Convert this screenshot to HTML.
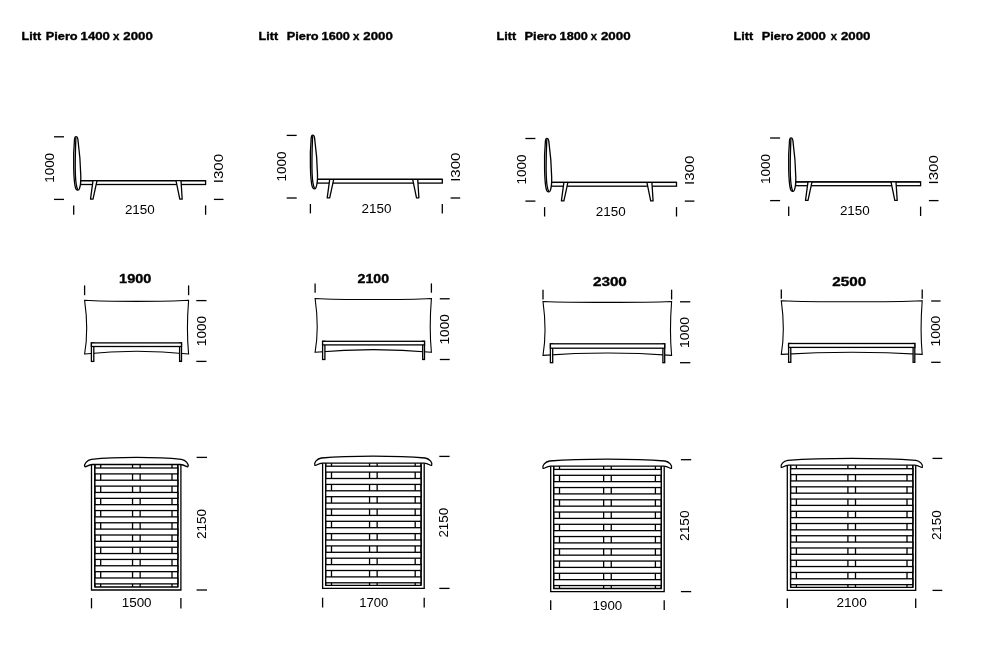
<!DOCTYPE html>
<html lang="en">
<head>
<meta charset="utf-8">
<title>Litt Piero</title>
<style>
html,body{margin:0;padding:0;background:#fff;}
body{width:997px;height:659px;overflow:hidden;}
svg{display:block;will-change:transform;}
svg *{stroke:#000;}
text{stroke:none;fill:#000;font-family:"Liberation Sans",sans-serif;}
text.b{font-weight:700;stroke:#000;stroke-width:0.35px;}
text.d{font-weight:400;}
</style>
</head>
<body>
<svg width="997" height="659" viewBox="0 0 997 659" fill="none" stroke-linecap="butt">
<rect x="0" y="0" width="997" height="659" fill="#fff" stroke="none" style="stroke:none"/>
<text class="b" y="39.9" font-size="10.8" xml:space="preserve"><tspan x="21.6" textLength="19.5" lengthAdjust="spacingAndGlyphs">Litt</tspan> <tspan x="45.7" textLength="32" lengthAdjust="spacingAndGlyphs">Piero</tspan> <tspan x="80.6" textLength="29.2" lengthAdjust="spacingAndGlyphs">1400</tspan> <tspan x="112.9" textLength="6.4" lengthAdjust="spacingAndGlyphs">x</tspan> <tspan x="123.3" textLength="29.5" lengthAdjust="spacingAndGlyphs">2000</tspan></text>
<text class="b" y="39.9" font-size="10.8" xml:space="preserve"><tspan x="258.6" textLength="19.5" lengthAdjust="spacingAndGlyphs">Litt</tspan>  <tspan x="286.7" textLength="32" lengthAdjust="spacingAndGlyphs">Piero</tspan> <tspan x="321.6" textLength="28.2" lengthAdjust="spacingAndGlyphs">1600</tspan> <tspan x="352.9" textLength="6.4" lengthAdjust="spacingAndGlyphs">x</tspan> <tspan x="363.3" textLength="29.5" lengthAdjust="spacingAndGlyphs">2000</tspan></text>
<text class="b" y="39.9" font-size="10.8" xml:space="preserve"><tspan x="496.6" textLength="19.5" lengthAdjust="spacingAndGlyphs">Litt</tspan>  <tspan x="524.5" textLength="32.2" lengthAdjust="spacingAndGlyphs">Piero</tspan> <tspan x="559.6" textLength="28.2" lengthAdjust="spacingAndGlyphs">1800</tspan> <tspan x="590.7" textLength="6.2" lengthAdjust="spacingAndGlyphs">x</tspan> <tspan x="600.9" textLength="29.7" lengthAdjust="spacingAndGlyphs">2000</tspan></text>
<text class="b" y="39.9" font-size="10.8" xml:space="preserve"><tspan x="733.6" textLength="19.5" lengthAdjust="spacingAndGlyphs">Litt</tspan>  <tspan x="761.7" textLength="32" lengthAdjust="spacingAndGlyphs">Piero</tspan> <tspan x="796.6" textLength="29.3" lengthAdjust="spacingAndGlyphs">2000</tspan> <tspan x="830.7" textLength="6.2" lengthAdjust="spacingAndGlyphs">x</tspan> <tspan x="840.9" textLength="29.5" lengthAdjust="spacingAndGlyphs">2000</tspan></text>
<g transform="translate(0 0)">
<line x1="54" y1="136.8" x2="64" y2="136.8" stroke-width="1.3"/>
<line x1="54" y1="199.4" x2="64" y2="199.4" stroke-width="1.3"/>
<line x1="73.7" y1="205.4" x2="73.7" y2="214.8" stroke-width="1.3"/>
<line x1="205.6" y1="205.4" x2="205.6" y2="214.8" stroke-width="1.3"/>
<line x1="213.9" y1="199.4" x2="223.5" y2="199.4" stroke-width="1.3"/>
<rect x="80.5" y="180.7" width="125.1" height="3.8" fill="#fff" stroke-width="1.3"/>
<path d="M93,180.7 L90.5,199.2 L93,199.2 L97,180.7" fill="#fff" stroke-width="1.3" stroke-linejoin="round"/>
<path d="M176,180.7 L179.8,199.2 L182.2,199.2 L181,180.7" fill="#fff" stroke-width="1.3" stroke-linejoin="round"/>
<line x1="80.5" y1="180.7" x2="205.6" y2="180.7" stroke-width="1.3"/>
<path d="M76,136.6 C75,136.6 74.7,137.6 74.5,139.5 C73.8,147 73.5,160 73.7,168 C73.9,177 74.4,184.5 75.6,188.3 C76.3,190.5 78.3,190.8 79.3,189 C80.3,186.5 80.9,182 80.8,176 C80.6,165 79.3,150 77.9,139.5 C77.6,137.5 77.1,136.6 76,136.6 Z" fill="#fff" stroke-width="1.3"/>
<path d="M75.9,137.5 C75.4,150 75.0,165 75.4,175 C75.7,182 76.3,187 77.8,189.8" fill="none" stroke-width="1.3"/>
<text class="d" transform="translate(53.6 182.8) rotate(-90)" x="0" y="0" font-size="13.4" textLength="29.9" lengthAdjust="spacingAndGlyphs">1000</text>
<text class="d" x="124.9" y="214" font-size="13.4" textLength="29.9" lengthAdjust="spacingAndGlyphs">2150</text>
<text class="d" transform="translate(223 183.2) rotate(-90)" x="0" y="0" font-size="13.4" textLength="29.2" lengthAdjust="spacingAndGlyphs">I300</text>
</g>
<g transform="translate(236.7 -1.4)">
<line x1="50" y1="136.8" x2="60" y2="136.8" stroke-width="1.3"/>
<line x1="50" y1="199.4" x2="60" y2="199.4" stroke-width="1.3"/>
<line x1="73.7" y1="205.4" x2="73.7" y2="214.8" stroke-width="1.3"/>
<line x1="205.6" y1="205.4" x2="205.6" y2="214.8" stroke-width="1.3"/>
<line x1="213.9" y1="199.4" x2="223.5" y2="199.4" stroke-width="1.3"/>
<rect x="80.5" y="180.7" width="125.1" height="3.8" fill="#fff" stroke-width="1.3"/>
<path d="M93,180.7 L90.5,199.2 L93,199.2 L97,180.7" fill="#fff" stroke-width="1.3" stroke-linejoin="round"/>
<path d="M176,180.7 L179.8,199.2 L182.2,199.2 L181,180.7" fill="#fff" stroke-width="1.3" stroke-linejoin="round"/>
<line x1="80.5" y1="180.7" x2="205.6" y2="180.7" stroke-width="1.3"/>
<path d="M76,136.6 C75,136.6 74.7,137.6 74.5,139.5 C73.8,147 73.5,160 73.7,168 C73.9,177 74.4,184.5 75.6,188.3 C76.3,190.5 78.3,190.8 79.3,189 C80.3,186.5 80.9,182 80.8,176 C80.6,165 79.3,150 77.9,139.5 C77.6,137.5 77.1,136.6 76,136.6 Z" fill="#fff" stroke-width="1.3"/>
<path d="M75.9,137.5 C75.4,150 75.0,165 75.4,175 C75.7,182 76.3,187 77.8,189.8" fill="none" stroke-width="1.3"/>
<text class="d" transform="translate(49.6 182.8) rotate(-90)" x="0" y="0" font-size="13.4" textLength="29.9" lengthAdjust="spacingAndGlyphs">1000</text>
<text class="d" x="124.9" y="214" font-size="13.4" textLength="29.9" lengthAdjust="spacingAndGlyphs">2150</text>
<text class="d" transform="translate(223 183.2) rotate(-90)" x="0" y="0" font-size="13.4" textLength="29.2" lengthAdjust="spacingAndGlyphs">I300</text>
</g>
<g transform="translate(470.9 1.7)">
<line x1="54.5" y1="136.8" x2="64.5" y2="136.8" stroke-width="1.3"/>
<line x1="54.5" y1="199.4" x2="64.5" y2="199.4" stroke-width="1.3"/>
<line x1="73.7" y1="205.4" x2="73.7" y2="214.8" stroke-width="1.3"/>
<line x1="205.6" y1="205.4" x2="205.6" y2="214.8" stroke-width="1.3"/>
<line x1="213.9" y1="199.4" x2="223.5" y2="199.4" stroke-width="1.3"/>
<rect x="80.5" y="180.7" width="125.1" height="3.8" fill="#fff" stroke-width="1.3"/>
<path d="M93,180.7 L90.5,199.2 L93,199.2 L97,180.7" fill="#fff" stroke-width="1.3" stroke-linejoin="round"/>
<path d="M176,180.7 L179.8,199.2 L182.2,199.2 L181,180.7" fill="#fff" stroke-width="1.3" stroke-linejoin="round"/>
<line x1="80.5" y1="180.7" x2="205.6" y2="180.7" stroke-width="1.3"/>
<path d="M76,136.6 C75,136.6 74.7,137.6 74.5,139.5 C73.8,147 73.5,160 73.7,168 C73.9,177 74.4,184.5 75.6,188.3 C76.3,190.5 78.3,190.8 79.3,189 C80.3,186.5 80.9,182 80.8,176 C80.6,165 79.3,150 77.9,139.5 C77.6,137.5 77.1,136.6 76,136.6 Z" fill="#fff" stroke-width="1.3"/>
<path d="M75.9,137.5 C75.4,150 75.0,165 75.4,175 C75.7,182 76.3,187 77.8,189.8" fill="none" stroke-width="1.3"/>
<text class="d" transform="translate(54.9 182.8) rotate(-90)" x="0" y="0" font-size="13.4" textLength="29.9" lengthAdjust="spacingAndGlyphs">1000</text>
<text class="d" x="124.9" y="214" font-size="13.4" textLength="29.9" lengthAdjust="spacingAndGlyphs">2150</text>
<text class="d" transform="translate(223 183.2) rotate(-90)" x="0" y="0" font-size="13.4" textLength="29.2" lengthAdjust="spacingAndGlyphs">I300</text>
</g>
<g transform="translate(715 1.2)">
<line x1="55.1" y1="136.8" x2="65.1" y2="136.8" stroke-width="1.3"/>
<line x1="55.1" y1="199.4" x2="65.1" y2="199.4" stroke-width="1.3"/>
<line x1="73.7" y1="205.4" x2="73.7" y2="214.8" stroke-width="1.3"/>
<line x1="205.6" y1="205.4" x2="205.6" y2="214.8" stroke-width="1.3"/>
<line x1="213.9" y1="199.4" x2="223.5" y2="199.4" stroke-width="1.3"/>
<rect x="80.5" y="180.7" width="125.1" height="3.8" fill="#fff" stroke-width="1.3"/>
<path d="M93,180.7 L90.5,199.2 L93,199.2 L97,180.7" fill="#fff" stroke-width="1.3" stroke-linejoin="round"/>
<path d="M176,180.7 L179.8,199.2 L182.2,199.2 L181,180.7" fill="#fff" stroke-width="1.3" stroke-linejoin="round"/>
<line x1="80.5" y1="180.7" x2="205.6" y2="180.7" stroke-width="1.3"/>
<path d="M76,136.6 C75,136.6 74.7,137.6 74.5,139.5 C73.8,147 73.5,160 73.7,168 C73.9,177 74.4,184.5 75.6,188.3 C76.3,190.5 78.3,190.8 79.3,189 C80.3,186.5 80.9,182 80.8,176 C80.6,165 79.3,150 77.9,139.5 C77.6,137.5 77.1,136.6 76,136.6 Z" fill="#fff" stroke-width="1.3"/>
<path d="M75.9,137.5 C75.4,150 75.0,165 75.4,175 C75.7,182 76.3,187 77.8,189.8" fill="none" stroke-width="1.3"/>
<text class="d" transform="translate(55.1 182.8) rotate(-90)" x="0" y="0" font-size="13.4" textLength="29.9" lengthAdjust="spacingAndGlyphs">1000</text>
<text class="d" x="124.9" y="214" font-size="13.4" textLength="29.9" lengthAdjust="spacingAndGlyphs">2150</text>
<text class="d" transform="translate(223 183.2) rotate(-90)" x="0" y="0" font-size="13.4" textLength="29.2" lengthAdjust="spacingAndGlyphs">I300</text>
</g>
<text class="b" x="119.1" y="282.6" font-size="12.6" textLength="32.3" lengthAdjust="spacingAndGlyphs">1900</text>
<line x1="84.6" y1="285.4" x2="84.6" y2="295.2" stroke-width="1.3"/>
<line x1="188.6" y1="285.4" x2="188.6" y2="295.2" stroke-width="1.3"/>
<path d="M84.6,300.3 C107.48,301.7 165.72,301.7 188.6,300.3 C187.06,319.63 187.06,337.89 188.6,354 C154.28,350.4 118.92,350.4 84.6,354 C87.4,337.89 87.4,319.63 84.6,300.3 Z" fill="#fff" stroke-width="1.1" stroke-linejoin="miter"/>
<rect x="91.4" y="342.9" width="2.4" height="18.5" fill="#fff" stroke-width="1.3"/>
<rect x="179.6" y="342.9" width="1.9" height="18.5" fill="#fff" stroke-width="1.3"/>
<rect x="91.4" y="342.9" width="90.1" height="3.6" fill="#fff" stroke-width="1.3"/>
<line x1="196.3" y1="300.6" x2="206.5" y2="300.6" stroke-width="1.3"/>
<line x1="196.3" y1="361.4" x2="206.5" y2="361.4" stroke-width="1.3"/>
<text class="d" transform="translate(206 346.2) rotate(-90)" x="0" y="0" font-size="13.4" textLength="30.4" lengthAdjust="spacingAndGlyphs">1000</text>
<text class="b" x="357.5" y="282.6" font-size="12.6" textLength="31.6" lengthAdjust="spacingAndGlyphs">2100</text>
<line x1="315.1" y1="283.4" x2="315.1" y2="292.7" stroke-width="1.3"/>
<line x1="431.4" y1="283.4" x2="431.4" y2="292.7" stroke-width="1.3"/>
<path d="M315.1,298.5 C340.69,299.9 405.81,299.9 431.4,298.5 C429.86,317.87 429.86,336.16 431.4,352.3 C393.02,348.83 353.48,348.83 315.1,352.3 C317.9,336.16 317.9,317.87 315.1,298.5 Z" fill="#fff" stroke-width="1.1" stroke-linejoin="miter"/>
<rect x="322.6" y="341.3" width="2.3" height="18.2" fill="#fff" stroke-width="1.3"/>
<rect x="422.7" y="341.3" width="1.8" height="18.2" fill="#fff" stroke-width="1.3"/>
<rect x="322.6" y="341.3" width="101.9" height="3.6" fill="#fff" stroke-width="1.3"/>
<line x1="439.8" y1="298.8" x2="449.7" y2="298.8" stroke-width="1.3"/>
<line x1="439.8" y1="359.5" x2="449.7" y2="359.5" stroke-width="1.3"/>
<text class="d" transform="translate(449.2 344.5) rotate(-90)" x="0" y="0" font-size="13.4" textLength="30.4" lengthAdjust="spacingAndGlyphs">1000</text>
<text class="b" x="592.9" y="285.8" font-size="12.6" textLength="34" lengthAdjust="spacingAndGlyphs">2300</text>
<line x1="543" y1="289.7" x2="543" y2="299.5" stroke-width="1.3"/>
<line x1="671.6" y1="289.7" x2="671.6" y2="299.5" stroke-width="1.3"/>
<path d="M543,301.5 C571.29,302.7 643.31,302.7 671.6,301.5 C670.13,320.9 670.13,339.23 671.6,355.4 C629.16,352.2 585.44,352.2 543,355.4 C545.67,339.23 545.67,320.9 543,301.5 Z" fill="#fff" stroke-width="1.1" stroke-linejoin="miter"/>
<rect x="550.4" y="343.8" width="2.3" height="18.9" fill="#fff" stroke-width="1.3"/>
<rect x="662.9" y="343.8" width="1.8" height="18.9" fill="#fff" stroke-width="1.3"/>
<rect x="550.4" y="343.8" width="114.3" height="4.4" fill="#fff" stroke-width="1.3"/>
<line x1="680" y1="301.8" x2="690.3" y2="301.8" stroke-width="1.3"/>
<line x1="680" y1="362.7" x2="690.3" y2="362.7" stroke-width="1.3"/>
<text class="d" transform="translate(688.9 347.9) rotate(-90)" x="0" y="0" font-size="13.4" textLength="31" lengthAdjust="spacingAndGlyphs">1000</text>
<text class="b" x="832.3" y="285.6" font-size="12.6" textLength="34" lengthAdjust="spacingAndGlyphs">2500</text>
<line x1="781.3" y1="289.4" x2="781.3" y2="298.8" stroke-width="1.3"/>
<line x1="922.2" y1="289.4" x2="922.2" y2="298.8" stroke-width="1.3"/>
<path d="M781.3,300.7 C812.3,302.1 891.2,302.1 922.2,300.7 C920.73,320.03 920.73,338.29 922.2,354.4 C875.7,351.47 827.8,351.47 781.3,354.4 C783.97,338.29 783.97,320.03 781.3,300.7 Z" fill="#fff" stroke-width="1.1" stroke-linejoin="miter"/>
<rect x="788.6" y="343.5" width="2.2" height="18.8" fill="#fff" stroke-width="1.3"/>
<rect x="913.1" y="343.5" width="1.7" height="18.8" fill="#fff" stroke-width="1.3"/>
<rect x="788.6" y="343.5" width="126.2" height="3.9" fill="#fff" stroke-width="1.3"/>
<line x1="931.2" y1="301" x2="940.6" y2="301" stroke-width="1.3"/>
<line x1="931.2" y1="362.3" x2="940.6" y2="362.3" stroke-width="1.3"/>
<text class="d" transform="translate(940 346.5) rotate(-90)" x="0" y="0" font-size="13.4" textLength="30.8" lengthAdjust="spacingAndGlyphs">1000</text>
<path d="M91.5,464.7 V590 H180.9 V464.7" fill="#fff" stroke-width="1.3"/>
<path d="M94.9,464.7 V587 H177.8 V464.7" fill="#fff" stroke-width="1.3"/>
<path d="M94.9,464.7 V587 M100.7,464.7 V587" fill="none" stroke-width="1.3"/>
<path d="M132.55,464.7 V587 M140.15,464.7 V587" fill="none" stroke-width="1.3"/>
<path d="M172,464.7 V587 M177.8,464.7 V587" fill="none" stroke-width="1.3"/>
<rect x="94.9" y="468" width="82.9" height="5.9" fill="#fff" stroke-width="1.3"/>
<rect x="94.9" y="480.22" width="82.9" height="5.9" fill="#fff" stroke-width="1.3"/>
<rect x="94.9" y="492.44" width="82.9" height="5.9" fill="#fff" stroke-width="1.3"/>
<rect x="94.9" y="504.66" width="82.9" height="5.9" fill="#fff" stroke-width="1.3"/>
<rect x="94.9" y="516.88" width="82.9" height="5.9" fill="#fff" stroke-width="1.3"/>
<rect x="94.9" y="529.1" width="82.9" height="5.9" fill="#fff" stroke-width="1.3"/>
<rect x="94.9" y="541.32" width="82.9" height="5.9" fill="#fff" stroke-width="1.3"/>
<rect x="94.9" y="553.54" width="82.9" height="5.9" fill="#fff" stroke-width="1.3"/>
<rect x="94.9" y="565.76" width="82.9" height="5.9" fill="#fff" stroke-width="1.3"/>
<rect x="94.9" y="577.98" width="82.9" height="5.9" fill="#fff" stroke-width="1.3"/>
<path d="M84.8,466.6 C83.8,464.2 86.9,460 91.4,459.4 C115.6,456.8 157.2,456.8 181.4,459.4 C185.9,460 189,464.2 188,466.6 C186.9,467.8 184.9,464.5 180.4,464.5 L92.4,464.5 C87.9,464.5 85.9,467.8 84.8,466.6 Z" fill="#fff" stroke-width="1.3" stroke-linejoin="round"/>
<line x1="196.6" y1="457.4" x2="207" y2="457.4" stroke-width="1.3"/>
<line x1="196.6" y1="590" x2="207" y2="590" stroke-width="1.3"/>
<text class="d" transform="translate(206.4 539.1) rotate(-90)" x="0" y="0" font-size="13.4" textLength="30.3" lengthAdjust="spacingAndGlyphs">2150</text>
<line x1="91.5" y1="598.1" x2="91.5" y2="608.4" stroke-width="1.3"/>
<line x1="180.9" y1="598.1" x2="180.9" y2="608.4" stroke-width="1.3"/>
<text class="d" x="121.7" y="607.4" font-size="13.4" textLength="29.9" lengthAdjust="spacingAndGlyphs">1500</text>
<path d="M322.6,463.3 V588.4 H424.2 V463.3" fill="#fff" stroke-width="1.3"/>
<path d="M325.7,463.3 V585.3 H421 V463.3" fill="#fff" stroke-width="1.3"/>
<path d="M325.7,463.3 V585.3 M331.5,463.3 V585.3" fill="none" stroke-width="1.3"/>
<path d="M369.55,463.3 V585.3 M377.15,463.3 V585.3" fill="none" stroke-width="1.3"/>
<path d="M415.2,463.3 V585.3 M421,463.3 V585.3" fill="none" stroke-width="1.3"/>
<rect x="325.7" y="466.2" width="95.3" height="5.9" fill="#fff" stroke-width="1.3"/>
<rect x="325.7" y="478.5" width="95.3" height="5.9" fill="#fff" stroke-width="1.3"/>
<rect x="325.7" y="490.8" width="95.3" height="5.9" fill="#fff" stroke-width="1.3"/>
<rect x="325.7" y="503.1" width="95.3" height="5.9" fill="#fff" stroke-width="1.3"/>
<rect x="325.7" y="515.4" width="95.3" height="5.9" fill="#fff" stroke-width="1.3"/>
<rect x="325.7" y="527.7" width="95.3" height="5.9" fill="#fff" stroke-width="1.3"/>
<rect x="325.7" y="540" width="95.3" height="5.9" fill="#fff" stroke-width="1.3"/>
<rect x="325.7" y="552.3" width="95.3" height="5.9" fill="#fff" stroke-width="1.3"/>
<rect x="325.7" y="564.6" width="95.3" height="5.9" fill="#fff" stroke-width="1.3"/>
<rect x="325.7" y="576.9" width="95.3" height="5.9" fill="#fff" stroke-width="1.3"/>
<path d="M314.8,465.2 C313.8,462.8 316.9,458.6 321.4,458 C349.71,455.4 396.79,455.4 425.1,458 C429.6,458.6 432.7,462.8 431.7,465.2 C430.6,466.4 428.6,463.1 424.1,463.1 L322.4,463.1 C317.9,463.1 315.9,466.4 314.8,465.2 Z" fill="#fff" stroke-width="1.3" stroke-linejoin="round"/>
<line x1="439.3" y1="456.4" x2="449.6" y2="456.4" stroke-width="1.3"/>
<line x1="439.3" y1="588.4" x2="449.6" y2="588.4" stroke-width="1.3"/>
<text class="d" transform="translate(447.5 537.6) rotate(-90)" x="0" y="0" font-size="13.4" textLength="29.8" lengthAdjust="spacingAndGlyphs">2150</text>
<line x1="322.6" y1="597.7" x2="322.6" y2="607.5" stroke-width="1.3"/>
<line x1="424.2" y1="597.7" x2="424.2" y2="607.5" stroke-width="1.3"/>
<text class="d" x="359.3" y="607" font-size="13.4" textLength="29" lengthAdjust="spacingAndGlyphs">1700</text>
<path d="M550.7,466.3 V591.6 H664.2 V466.3" fill="#fff" stroke-width="1.3"/>
<path d="M553.7,466.3 V588.5 H661.2 V466.3" fill="#fff" stroke-width="1.3"/>
<path d="M553.7,466.3 V588.5 M559.5,466.3 V588.5" fill="none" stroke-width="1.3"/>
<path d="M603.65,466.3 V588.5 M611.25,466.3 V588.5" fill="none" stroke-width="1.3"/>
<path d="M655.4,466.3 V588.5 M661.2,466.3 V588.5" fill="none" stroke-width="1.3"/>
<rect x="553.7" y="469.4" width="107.5" height="5.9" fill="#fff" stroke-width="1.3"/>
<rect x="553.7" y="481.65" width="107.5" height="5.9" fill="#fff" stroke-width="1.3"/>
<rect x="553.7" y="493.9" width="107.5" height="5.9" fill="#fff" stroke-width="1.3"/>
<rect x="553.7" y="506.15" width="107.5" height="5.9" fill="#fff" stroke-width="1.3"/>
<rect x="553.7" y="518.4" width="107.5" height="5.9" fill="#fff" stroke-width="1.3"/>
<rect x="553.7" y="530.65" width="107.5" height="5.9" fill="#fff" stroke-width="1.3"/>
<rect x="553.7" y="542.9" width="107.5" height="5.9" fill="#fff" stroke-width="1.3"/>
<rect x="553.7" y="555.15" width="107.5" height="5.9" fill="#fff" stroke-width="1.3"/>
<rect x="553.7" y="567.4" width="107.5" height="5.9" fill="#fff" stroke-width="1.3"/>
<rect x="553.7" y="579.65" width="107.5" height="5.9" fill="#fff" stroke-width="1.3"/>
<path d="M543,468.2 C542,465.8 545.1,461.6 549.6,461 C581.39,458.4 633.11,458.4 664.9,461 C669.4,461.6 672.5,465.8 671.5,468.2 C670.4,469.4 668.4,466.1 663.9,466.1 L550.6,466.1 C546.1,466.1 544.1,469.4 543,468.2 Z" fill="#fff" stroke-width="1.3" stroke-linejoin="round"/>
<line x1="680.9" y1="459.7" x2="691.2" y2="459.7" stroke-width="1.3"/>
<line x1="680.9" y1="591.6" x2="691.2" y2="591.6" stroke-width="1.3"/>
<text class="d" transform="translate(689.4 541) rotate(-90)" x="0" y="0" font-size="13.4" textLength="30.6" lengthAdjust="spacingAndGlyphs">2150</text>
<line x1="550.7" y1="600.3" x2="550.7" y2="610.1" stroke-width="1.3"/>
<line x1="664.2" y1="600.3" x2="664.2" y2="610.1" stroke-width="1.3"/>
<text class="d" x="592.6" y="609.7" font-size="13.4" textLength="29.6" lengthAdjust="spacingAndGlyphs">1900</text>
<path d="M787.3,465.3 V590.4 H915.7 V465.3" fill="#fff" stroke-width="1.3"/>
<path d="M790.6,465.3 V587.4 H912.8 V465.3" fill="#fff" stroke-width="1.3"/>
<path d="M790.6,465.3 V587.4 M796.4,465.3 V587.4" fill="none" stroke-width="1.3"/>
<path d="M847.9,465.3 V587.4 M855.5,465.3 V587.4" fill="none" stroke-width="1.3"/>
<path d="M907,465.3 V587.4 M912.8,465.3 V587.4" fill="none" stroke-width="1.3"/>
<rect x="790.6" y="468.7" width="122.2" height="5.9" fill="#fff" stroke-width="1.3"/>
<rect x="790.6" y="480.93" width="122.2" height="5.9" fill="#fff" stroke-width="1.3"/>
<rect x="790.6" y="493.16" width="122.2" height="5.9" fill="#fff" stroke-width="1.3"/>
<rect x="790.6" y="505.39" width="122.2" height="5.9" fill="#fff" stroke-width="1.3"/>
<rect x="790.6" y="517.62" width="122.2" height="5.9" fill="#fff" stroke-width="1.3"/>
<rect x="790.6" y="529.85" width="122.2" height="5.9" fill="#fff" stroke-width="1.3"/>
<rect x="790.6" y="542.08" width="122.2" height="5.9" fill="#fff" stroke-width="1.3"/>
<rect x="790.6" y="554.31" width="122.2" height="5.9" fill="#fff" stroke-width="1.3"/>
<rect x="790.6" y="566.54" width="122.2" height="5.9" fill="#fff" stroke-width="1.3"/>
<rect x="790.6" y="578.77" width="122.2" height="5.9" fill="#fff" stroke-width="1.3"/>
<path d="M781.2,467.2 C780.2,464.8 783.3,460.9 787.8,460.3 C823.37,457.7 880.13,457.7 915.7,460.3 C920.2,460.9 923.3,464.8 922.3,467.2 C921.2,468.4 919.2,465.1 914.7,465.1 L788.8,465.1 C784.3,465.1 782.3,468.4 781.2,467.2 Z" fill="#fff" stroke-width="1.3" stroke-linejoin="round"/>
<line x1="932.5" y1="458.4" x2="942.3" y2="458.4" stroke-width="1.3"/>
<line x1="932.5" y1="590.4" x2="942.3" y2="590.4" stroke-width="1.3"/>
<text class="d" transform="translate(941.4 540.1) rotate(-90)" x="0" y="0" font-size="13.4" textLength="29.9" lengthAdjust="spacingAndGlyphs">2150</text>
<line x1="787.3" y1="598.4" x2="787.3" y2="608" stroke-width="1.3"/>
<line x1="915.7" y1="598.4" x2="915.7" y2="608" stroke-width="1.3"/>
<text class="d" x="836.4" y="607.2" font-size="13.4" textLength="30.4" lengthAdjust="spacingAndGlyphs">2100</text>
</svg>
</body>
</html>
